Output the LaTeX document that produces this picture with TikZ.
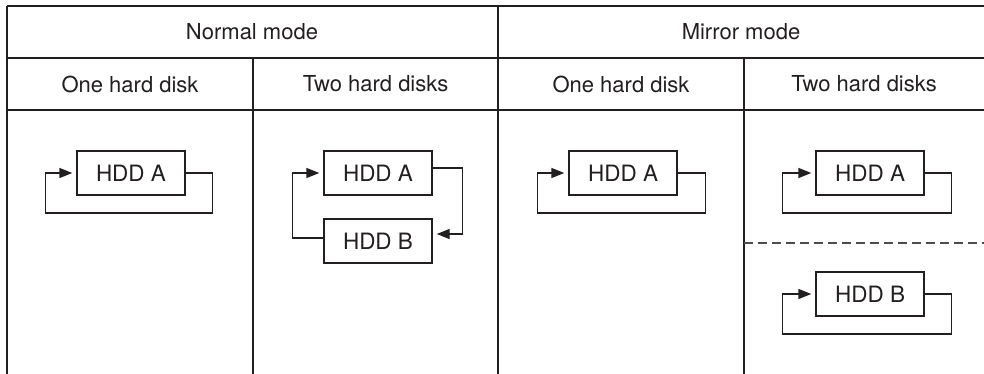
\documentclass[tikz,border=0pt]{standalone}
\usepackage{fontspec}
\setmainfont{TeX Gyre Heros}
\usetikzlibrary{arrows.meta,calc}
\definecolor{ink}{HTML}{231F20}
\tikzset{
  grid/.style={draw=ink,line width=1.5pt},
  head/.style={text=ink,font=\fontsize{22}{26}\selectfont,inner sep=0pt,anchor=center},
  hdd/.style={draw=ink,line width=1.4pt,minimum width=108pt,minimum height=44pt,inner sep=0pt,text=ink,font=\fontsize{22.5}{26}\selectfont},
  loop/.style={draw=ink,line width=1.4pt,-{Triangle[length=13pt,width=10pt]},shorten >=4pt},
  sep/.style={draw=ink!80,line width=1.2pt,dash pattern=on 9pt off 5pt}
}
\begin{document}
\begin{tikzpicture}[x=1pt,y=-1pt]
\useasboundingbox (0,0) rectangle (984,374);
% table
\draw[grid] (7,6) -- (984,6);
\draw[grid] (7,58) -- (984,58);
\draw[grid] (7,110) -- (984,110);
\draw[grid] (7,6) -- (7,374);
\draw[grid] (498,6) -- (498,374);
\draw[grid] (253,58) -- (253,374);
\draw[grid] (744,58) -- (744,374);
% headers
\node[head] (nm) at (252,32) {Normal mode};
\node[head] (mm) at (741,32) {Mirror mode};
\node[head] (n1) at (130,84) {One hard disk};
\node[head] (n2) at (375.5,84) {Two hard disks};
\node[head] (m1) at (621,84) {One hard disk};
\node[head] (m2) at (864,84) {Two hard disks};
% column 1
\node[hdd] (a1) at (131,173) {HDD A};
\draw[loop] (a1.east) -- ++(27,0) |- ++(-27,40) -| ($(a1.west)+(-31,0)$) -- (a1.west);
% column 2
\node[hdd] (a2) at (378,173) {HDD A};
\node[hdd] (b2) at (378,241) {HDD B};
\coordinate (a2r) at ($(a2.east)+(0,-5)$);
\coordinate (b2r) at ($(b2.east)+(0,-7)$);
\coordinate (b2l) at ($(b2.west)+(0,-3)$);
\draw[loop] (a2r) -- ++(30,0) |- (b2r);
\draw[loop] (b2l) -- ++(-31,0) |- (a2.west);
% column 3
\node[hdd] (a3) at (623,173) {HDD A};
\draw[loop] (a3.east) -- ++(28,0) |- ++(-28,40) -| ($(a3.west)+(-31,0)$) -- (a3.west);
% column 4
\node[hdd] (a4) at (870,173) {HDD A};
\draw[loop] (a4.east) -- ++(27,0) |- ++(-27,40) -| ($(a4.west)+(-33,0)$) -- (a4.west);
\draw[sep] (744,243) -- (984,243);
\node[hdd] (b4) at (870,294) {HDD B};
\draw[loop] (b4.east) -- ++(27,0) |- ++(-27,40) -| ($(b4.west)+(-33,0)$) -- (b4.west);
\end{tikzpicture}
\end{document}
